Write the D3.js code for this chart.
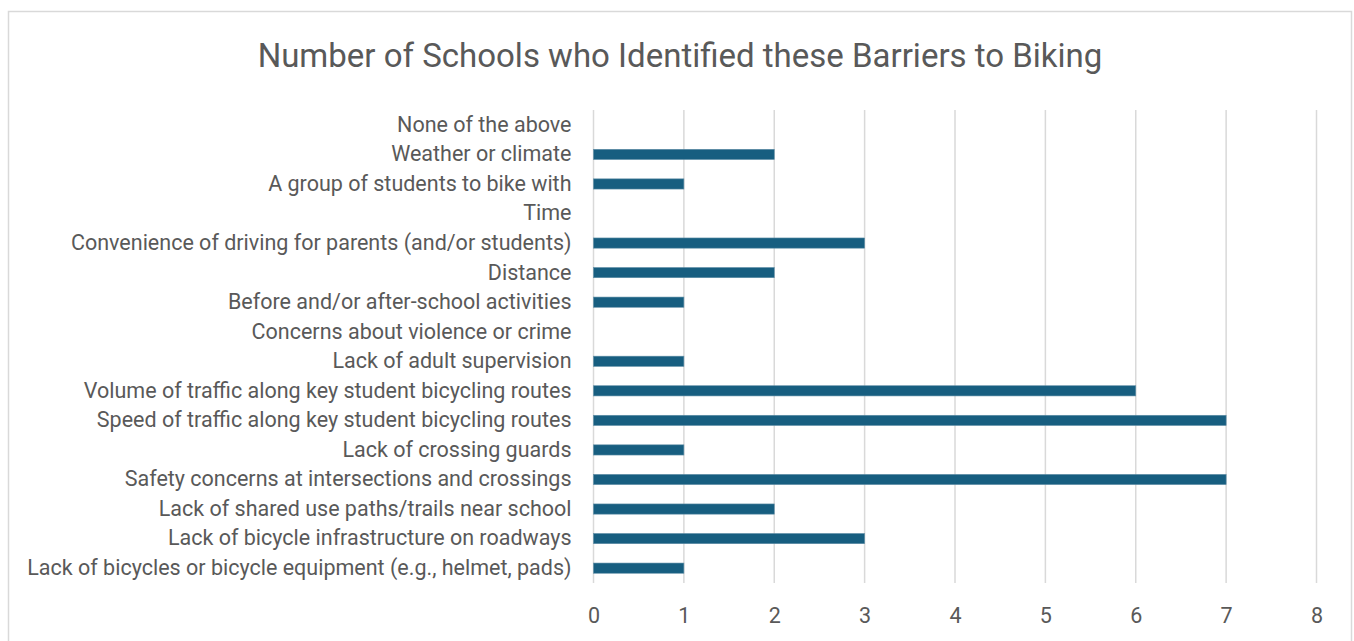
<!DOCTYPE html>
<html>
<head>
<meta charset="utf-8">
<script src="https://cdn.jsdelivr.net/npm/d3@7"></script>
<style>
  html, body { margin: 0; padding: 0; background: #fff; }
  svg { display: block; }
  text { font-family: Roboto, "Open Sans", sans-serif; fill: #595959; }
</style>
</head>
<body>
<svg id="chart" width="1354" height="641"></svg>
<script>
// Barriers listed from top to bottom
const categories = [
  "None of the above",
  "Weather or climate",
  "A group of students to bike with",
  "Time",
  "Convenience of driving for parents (and/or students)",
  "Distance",
  "Before and/or after-school activities",
  "Concerns about violence or crime",
  "Lack of adult supervision",
  "Volume of traffic along key student bicycling routes",
  "Speed of traffic along key student bicycling routes",
  "Lack of crossing guards",
  "Safety concerns at intersections and crossings",
  "Lack of shared use paths/trails near school",
  "Lack of bicycle infrastructure on roadways",
  "Lack of bicycles or bicycle equipment (e.g., helmet, pads)"
];
const schoolCounts = [0, 2, 1, 0, 3, 2, 1, 0, 1, 6, 7, 1, 7, 2, 3, 1];
const tickValues = [0, 1, 2, 3, 4, 5, 6, 7, 8];
const chartTitle = "Number of Schools who Identified these Barriers to Biking";

const svg = d3.select("#chart");

// Chart frame
svg.append("rect")
  .attr("x", 8.5).attr("y", 11.5)
  .attr("width", 1343).attr("height", 650)
  .attr("fill", "#fff")
  .attr("stroke", "#d9d9d9")
  .attr("stroke-width", 1.5);

const plot = { left: 593.5, right: 1316.5, top: 110, bottom: 583 };

const x = d3.scaleLinear().domain([0, 8]).range([plot.left, plot.right]);
const y = d3.scaleBand().domain(categories).range([plot.top, plot.bottom]).paddingInner(0.655).paddingOuter(0.33);

// Vertical gridlines
svg.append("g")
  .selectAll("line")
  .data(tickValues)
  .join("line")
  .attr("x1", d => x(d)).attr("x2", d => x(d))
  .attr("y1", plot.top).attr("y2", plot.bottom)
  .attr("stroke", "#d9d9d9")
  .attr("stroke-width", 1.5);

// Bars
svg.append("g")
  .selectAll("rect")
  .data(categories.map((c, i) => ({ c, v: schoolCounts[i] })).filter(d => d.v > 0))
  .join("rect")
  .attr("x", x(0))
  .attr("y", d => y(d.c))
  .attr("width", d => x(d.v) - x(0))
  .attr("height", y.bandwidth())
  .attr("fill", "#175e80")
  .attr("stroke", "#5f8ea6")
  .attr("stroke-width", 0.6);

// Category labels
const yAxis = d3.axisLeft(y).tickSize(0).tickPadding(22);
svg.append("g")
  .attr("transform", `translate(${plot.left},0)`)
  .call(yAxis)
  .call(g => g.select(".domain").remove())
  .selectAll("text")
  .style("font-size", "21.5px")
  .attr("fill", "#595959");

// Value axis labels
const xAxis = d3.axisBottom(x).tickValues(tickValues).tickSize(0).tickPadding(24.5).tickFormat(d3.format("d"));
svg.append("g")
  .attr("transform", `translate(0,${plot.bottom})`)
  .call(xAxis)
  .call(g => g.select(".domain").remove())
  .selectAll("text")
  .style("font-size", "21.5px")
  .attr("fill", "#595959");

// Title
svg.append("text")
  .attr("x", 680)
  .attr("y", 67)
  .attr("text-anchor", "middle")
  .style("font-size", "33px")
  .text(chartTitle);
</script>
</body>
</html>
